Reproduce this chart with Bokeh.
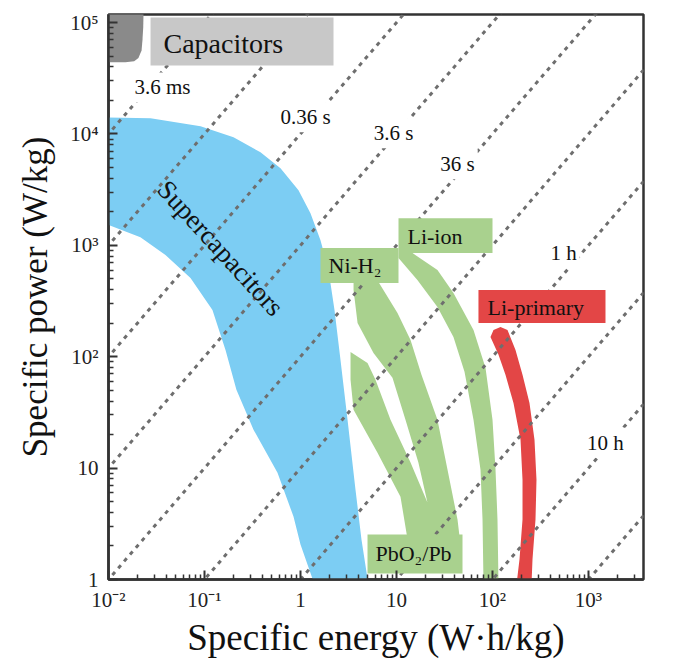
from bokeh.plotting import figure
from bokeh.models import Range1d, FixedTicker, ColumnDataSource
from bokeh.core.properties import value
from bokeh.embed import file_html
from bokeh.resources import INLINE

SERIF = "Liberation Serif"

# ---- Ragone regions: specific energy (W·h/kg) vs specific power (W/kg) ----
capacitor_energy = [0.009, 0.0232, 0.0230, 0.0226, 0.0221, 0.0205, 0.0185, 0.0150, 0.009]
capacitor_power = [1.3e5, 1.3e5, 9.0e4, 7.0e4, 5.6e4, 4.8e4, 4.5e4, 4.4e4, 4.4e4]

supercap_energy = [0.009, 0.0274, 0.0909, 0.2005, 0.383, 0.619, 0.953, 1.27, 1.615,
                   1.957, 2.26, 2.61, 3.09, 3.74, 4.32, 5.1,
                   1.40, 1.0, 0.845, 0.576, 0.324, 0.215, 0.1655, 0.121, 0.0715,
                   0.0392, 0.0215, 0.009]
supercap_power = [14090, 13800, 11700, 9330, 6840, 4920, 3125, 1944, 1113,
                  600, 262, 93.6, 27.1, 6.4, 2.28, 0.9,
                  0.9, 2.06, 3.67, 9.1, 22.1, 50.4, 115, 262, 508,
                  817, 1184, 1580]

# Ni-H2 and PbO2/Pb bands (joined near the bottom)
nickel_lead_energy = [3.57, 6.49, 10.24, 14.0, 18.2, 26.7, 34.0, 43.2, 46.4,
                      13.3, 11.0, 6.34, 3.57, 3.32, 3.32, 4.99, 6.04, 8.66, 14.0,
                      21.0, 16.9, 12.4, 9.08, 5.76, 3.93, 3.57]
nickel_lead_power = [468, 468, 247, 141, 68.7, 27.1, 9.68, 3.45, 2.06,
                     2.06, 5.54, 13.7, 33.4, 62.0, 110, 88.0, 62.0, 27.1, 11.2,
                     4.90, 11.2, 27.1, 64.6, 108, 201, 397]

li_ion_energy = [10.49, 14.68, 26.7, 39.2, 63.4, 84.5, 100, 107.5, 112.7, 115.5,
                 80.6, 78.7, 75.0, 63.4, 51.1, 39.2, 26.7, 16.5, 10.49]
li_ion_power = [851, 851, 600, 373, 174, 79.4, 27.1, 9.68, 3.45, 0.9,
                0.9, 3.45, 9.68, 27.1, 73.1, 150, 279, 488, 768]

li_primary_energy = [95.3, 115.5, 136.5, 165.4, 195.8, 205.4, 205.4, 191.0, 177.8,
                     254.8, 261.0, 280.5, 287.2, 273.8, 242.8, 205.4, 173.6, 143.3,
                     121.2, 102.4]
li_primary_power = [150, 104, 68.7, 38.5, 17.97, 7.87, 3.45, 1.51, 0.9,
                    0.9, 1.51, 3.45, 7.87, 17.97, 38.5, 68.7, 115, 174,
                    185, 174]

# ---- constant discharge-time lines (seconds): P = 3600 * E / t ----
discharge_times = [3.6e-3, 3.6e-2, 0.36, 3.6, 36, 360, 3600, 3.6e4, 3.6e5, 3.6e6]
line_energy_span = [1e-3, 1e4]

time_label_text = ["3.6 ms", "0.36 s", "3.6 s", "36 s", "1 h", "10 h"]
time_label_energy = [0.0365, 1.127, 9.31, 43.2, 549, 1503]
time_label_power = [26160, 14080, 10120, 5342, 851, 16.9]

# ---- technology tags ----
tag_text = ["Capacitors", "Ni-H₂", "Li-ion", "Li-primary", "PbO₂/Pb"]
tag_left = [0.0274, 1.616, 10.49, 71.4, 4.99]
tag_right = [2.207, 10.49, 100, 1503, 48.7]
tag_bottom = [41180, 458, 851, 201, 1.13]
tag_top = [110900, 944, 1753, 397, 2.53]
tag_text_energy = [0.0374, 1.957, 13.0, 88.7, 6.04]
tag_text_power = [64860, 665, 1209, 279, 1.71]

supercap_label = "Supercapacitors"
supercap_label_energy = 0.147
supercap_label_power = 944

x_ticks = [0.01, 0.1, 1, 10, 100, 1000]
x_tick_labels = ["10⁻²", "10⁻¹", "1", "10", "10²", "10³"]
y_ticks = [1, 10, 100, 1000, 10000, 100000]
y_tick_labels = ["1", "10", "10²", "10³", "10⁴", "10⁵"]

# ---- colours ----
GRAY_DARK = "#8a8a8a"
GRAY_LIGHT = "#c8c8c8"
BLUE = "#7ccdf3"
GREEN = "#a9d18e"
RED = "#e34646"
tag_colors = [GRAY_LIGHT, GREEN, GREEN, RED, GREEN]
tag_sizes = ["28px", "22px", "22px", "22px", "22px"]

p = figure(width=678, height=660,
           x_axis_type="log", y_axis_type="log",
           x_range=Range1d(0.01, 3740), y_range=Range1d(1, 1.18e5),
           output_backend="svg", toolbar_location=None,
           min_border_left=108, min_border_right=35,
           min_border_top=14, min_border_bottom=80,
           background_fill_color="white", border_fill_color="white")
p.xgrid.visible = False
p.ygrid.visible = False
p.outline_line_color = "#333333"
p.outline_line_width = 2.5

# regions
p.patch(capacitor_energy, capacitor_power, fill_color=GRAY_DARK, line_color=None)
p.patch(supercap_energy, supercap_power, fill_color=BLUE, line_color=None)
p.patch(nickel_lead_energy, nickel_lead_power, fill_color=GREEN, line_color=None)
p.patch(li_ion_energy, li_ion_power, fill_color=GREEN, line_color=None)
p.patch(li_primary_energy, li_primary_power, fill_color=RED, line_color=None)

# constant-time guide lines
for t in discharge_times:
    p.line(line_energy_span, [3600.0 * e / t for e in line_energy_span],
           line_color="#6e6e6e", line_width=3, line_dash="4 5")

# time labels (white background breaks the guide line)
time_src = ColumnDataSource(dict(x=time_label_energy, y=time_label_power,
                                 text=time_label_text))
p.text(x="x", y="y", text="text", source=time_src,
       text_font=value(SERIF), text_font_size="21px", text_color="#111111",
       text_align="center", text_baseline="middle",
       background_fill_color="white", padding=3)

# technology tags
tag_src = ColumnDataSource(dict(left=tag_left, right=tag_right, bottom=tag_bottom,
                                top=tag_top, color=tag_colors, x=tag_text_energy,
                                y=tag_text_power, text=tag_text, size=tag_sizes))
p.quad(left="left", right="right", bottom="bottom", top="top", source=tag_src,
       fill_color="color", line_color=None)
p.text(x="x", y="y", text="text", source=tag_src, text_font=value(SERIF),
       text_font_size="size", text_color="#111111",
       text_align="left", text_baseline="middle")

p.text(x=[supercap_label_energy], y=[supercap_label_power], text=[supercap_label],
       angle=-0.83, text_font=value(SERIF), text_font_size="27px",
       text_color="#111111", text_align="center", text_baseline="middle")

# axes
def minor_ticks(lo, hi):
    out = []
    for d in range(lo, hi + 1):
        out += [m * 10.0 ** d for m in range(2, 10)]
    return out

p.xaxis.ticker = FixedTicker(ticks=x_ticks, minor_ticks=minor_ticks(-2, 3))
p.yaxis.ticker = FixedTicker(ticks=y_ticks, minor_ticks=minor_ticks(0, 5))
p.xaxis.major_label_overrides = {k: v for k, v in zip(x_ticks, x_tick_labels)}
p.yaxis.major_label_overrides = {k: v for k, v in zip(y_ticks, y_tick_labels)}

for ax in (p.xaxis, p.yaxis):
    ax.axis_line_color = "#333333"
    ax.axis_line_width = 2.5
    ax.major_tick_in = 9
    ax.major_tick_out = 0
    ax.minor_tick_in = 5
    ax.minor_tick_out = 0
    ax.major_tick_line_color = "#333333"
    ax.major_tick_line_width = 2
    ax.minor_tick_line_color = "#333333"
    ax.minor_tick_line_width = 1.5
    ax.major_label_text_font = SERIF
    ax.major_label_text_font_size = "21px"
    ax.major_label_text_color = "#222222"
    ax.axis_label_text_font = SERIF
    ax.axis_label_text_font_style = "normal"
    ax.axis_label_text_color = "#111111"

p.xaxis.axis_label = "Specific energy (W·h/kg)"
p.xaxis.axis_label_text_font_size = "37px"
p.xaxis.major_label_standoff = 8
p.xaxis.axis_label_standoff = 2

p.yaxis.axis_label = "Specific power (W/kg)"
p.yaxis.axis_label_text_font_size = "35px"
p.yaxis.major_label_standoff = 10
p.yaxis.axis_label_standoff = 12

open("out.html", "w").write(file_html(p, INLINE))
